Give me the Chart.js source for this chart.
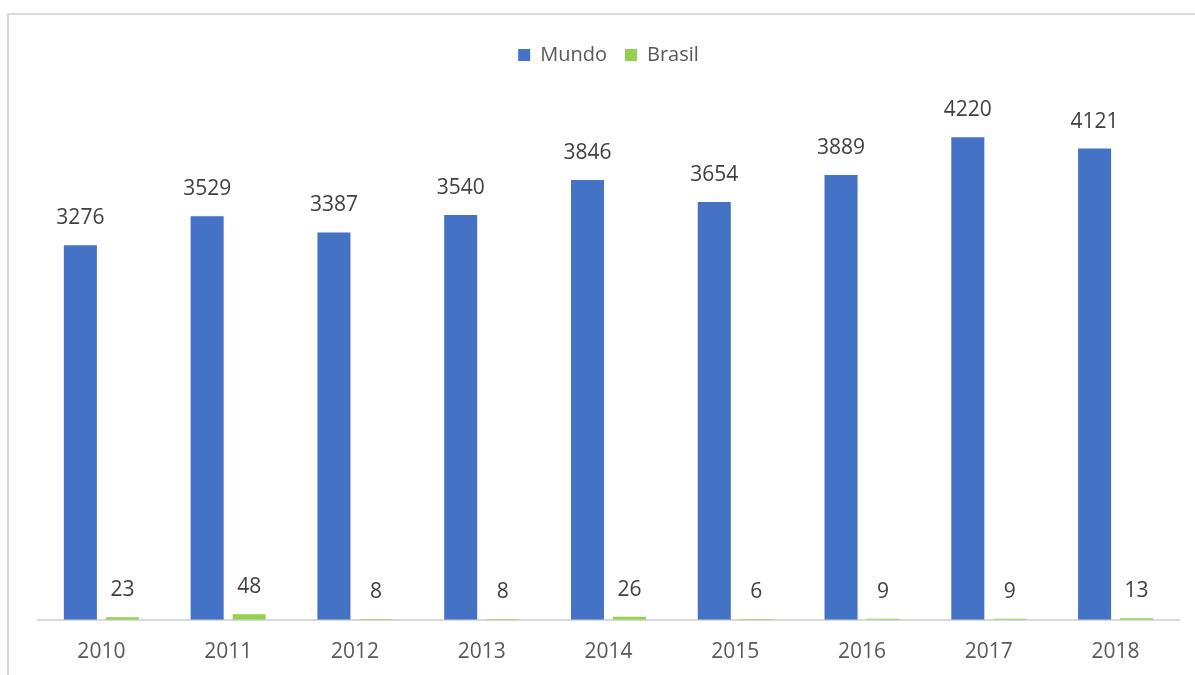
<!DOCTYPE html>
<html lang="pt">
<head>
    <meta charset="UTF-8">
    <title>Mundo x Brasil</title>
    <script src="https://cdn.jsdelivr.net/npm/chart.js"></script>
    <style>
        body {
            margin: 0;
            background: #fff;
            overflow: hidden;
        }
        #frame {
            position: absolute;
            left: 7px;
            top: 13px;
            width: 1200px;
            height: 700px;
            border: 2px solid #d9d9d9;
        }
        #wrap {
            position: absolute;
            left: 0;
            top: 0;
            width: 1195px;
            height: 685px;
        }
    </style>
</head>
<body>
    <div id="frame"></div>
    <div id="wrap">
        <canvas id="chart"></canvas>
    </div>

    <script>
        // values
        const years = ['2010', '2011', '2012', '2013', '2014', '2015', '2016', '2017', '2018'];
        const mundo = [3276, 3529, 3387, 3540, 3846, 3654, 3889, 4220, 4121];
        const brasil = [23, 48, 8, 8, 26, 6, 9, 9, 13];

        const FONT = "'Open Sans', 'Liberation Sans', sans-serif";

        // simple value labels above each bar (no datalabels plugin offline)
        const valueLabels = {
            id: 'valueLabels',
            afterDatasetsDraw(chart) {
                const ctx = chart.ctx;
                ctx.save();
                ctx.font = '21px ' + FONT;
                ctx.fillStyle = '#404040';
                ctx.textAlign = 'center';
                ctx.textBaseline = 'middle';
                chart.data.datasets.forEach((ds, i) => {
                    chart.getDatasetMeta(i).data.forEach((bar, j) => {
                        ctx.fillText(ds.data[j], bar.x, bar.y - 27);
                    });
                });
                ctx.restore();
            }
        };

        new Chart(document.getElementById('chart'), {
            type: 'bar',
            data: {
                labels: years,
                datasets: [
                    { label: 'Mundo', data: mundo, backgroundColor: '#4472C4' },
                    { label: 'Brasil', data: brasil, backgroundColor: '#92D050' }
                ]
            },
            options: {
                responsive: true,
                maintainAspectRatio: false,
                animation: false,
                categoryPercentage: 0.663,
                barPercentage: 0.786,
                layout: {
                    padding: { top: 27, left: 38, right: 16, bottom: 0 }
                },
                plugins: {
                    legend: {
                        position: 'top',
                        labels: {
                            boxWidth: 12,
                            boxHeight: 12,
                            padding: 18,
                            color: '#595959',
                            font: { family: FONT, size: 20 }
                        }
                    },
                    tooltip: { enabled: false }
                },
                scales: {
                    x: {
                        grid: { display: false, drawTicks: false },
                        border: { display: true, color: '#d9d9d9', width: 2 },
                        ticks: {
                            color: '#595959',
                            padding: 20,
                            font: { family: FONT, size: 21 }
                        }
                    },
                    y: {
                        display: false,
                        min: 0,
                        max: 4764
                    }
                }
            },
            plugins: [valueLabels]
        });
    </script>
</body>
</html>
